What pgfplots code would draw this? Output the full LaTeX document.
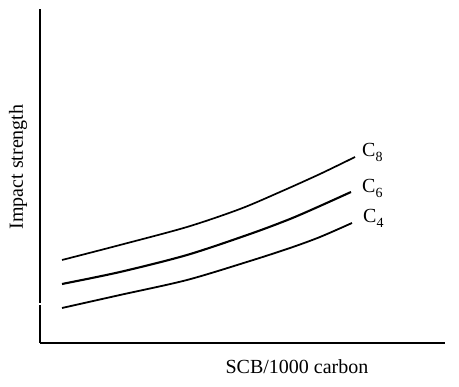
\documentclass[border=0pt]{standalone}
\usepackage{pgfplots}
\pgfplotsset{compat=1.18}
\usepackage{fontspec}
\setmainfont{Liberation Serif}

\newcommand{\lbl}[1]{C\raisebox{-0.25em}{\fontsize{14}{14}\selectfont #1}}

\begin{document}
\begin{tikzpicture}[x=1pt,y=1pt]
\useasboundingbox (0,0) rectangle (459,387);
\begin{axis}[
  at={(40pt,44pt)}, anchor=south west,
  scale only axis, width=405pt, height=334pt,
  xmin=0, xmax=405, ymin=0, ymax=334,
  axis lines=left,
  axis line style={-, line width=1.4pt},
  xtick=\empty, ytick=\empty,
  clip=false,
  font=\fontsize{20}{22}\selectfont,
]
% C8
\addplot[black, line width=1.7pt, smooth] coordinates {
  (22,83) (80,98) (147,116) (200,134) (240,151) (280,169) (315,186)
};
% C6
\addplot[black, line width=2.1pt, smooth] coordinates {
  (22,59) (80,71) (147,88) (210,109) (250,124) (280,137) (311,151)
};
% C4
\addplot[black, line width=1.8pt, smooth] coordinates {
  (22,35) (80,48) (147,63) (210,82) (250,95) (280,106) (312,120)
};
\node[anchor=base west, inner sep=0pt] at (axis cs:322,186) {\lbl{8}};
\node[anchor=base west, inner sep=0pt] at (axis cs:322,150) {\lbl{6}};
\node[anchor=base west, inner sep=0pt] at (axis cs:323,120) {\lbl{4}};
% break in the vertical axis
\fill[white] (axis cs:-3,37.5) rectangle (axis cs:3,40);
\node at (axis cs:257,-24) {SCB/1000 carbon};
\node[rotate=90] at (axis cs:-22,176) {Impact strength};
\end{axis}
\end{tikzpicture}
\end{document}
